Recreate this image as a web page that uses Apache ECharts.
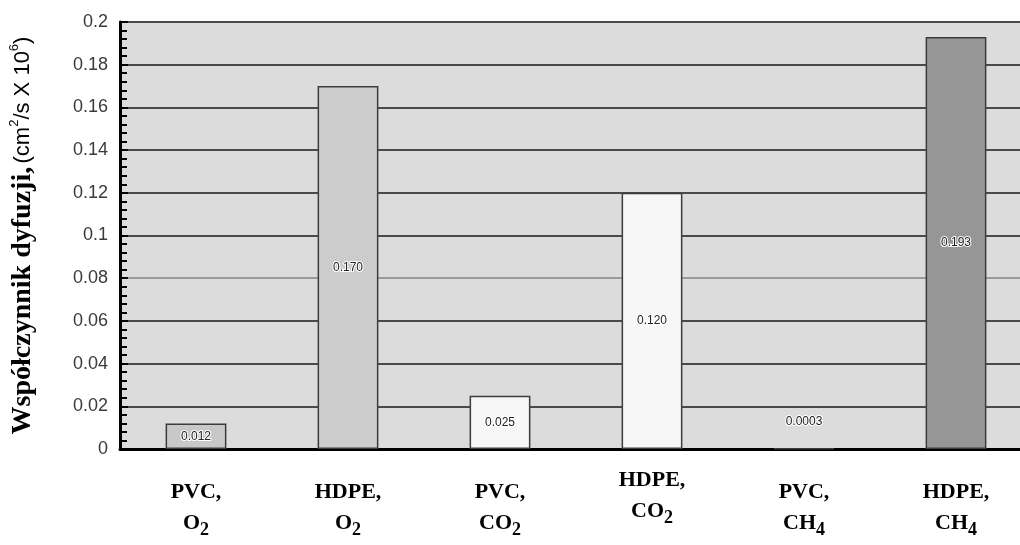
<!DOCTYPE html>
<html>
<head>
<meta charset="utf-8">
<script src="https://cdn.jsdelivr.net/npm/echarts@6/dist/echarts.min.js"></script>
<style>html,body{margin:0;padding:0;background:#fff;}#c{width:1020px;height:545px;}</style>
</head>
<body>
<div id="c"></div>
<script>
const categories = ['PVC, O2', 'HDPE, O2', 'PVC, CO2', 'HDPE, CO2', 'PVC, CH4', 'HDPE, CH4'];
const values = [0.012, 0.170, 0.025, 0.120, 0.0003, 0.193];
const valueLabels = ['0.012', '0.170', '0.025', '0.120', '0.0003', '0.193'];
const barColors = ['#c8c8c8', '#cccccc', '#f7f7f7', '#f7f7f7', '#e6e6e6', '#969696'];
const yTicks = [0, 0.02, 0.04, 0.06, 0.08, 0.1, 0.12, 0.14, 0.16, 0.18, 0.2];

const gridColors = yTicks.map((t, i) => i === 4 ? '#9a9a9a' : '#4a4a4a');

function catLabel(v) {
  const parts = v.split(', ');
  const gas = parts[1].replace(/(\d)/g, '}{s|$1}{g|');
  return '{m|' + parts[0] + ',}\n{g|' + gas + '}';
}

const chart = echarts.init(document.getElementById('c'), null, {renderer: 'canvas'});
chart.setOption({
  animation: false,
  backgroundColor: '#ffffff',
  grid: {
    left: 120, top: 22, height: 427, width: 912,
    outerBoundsMode: 'none',
    containLabel: false,
    show: true, backgroundColor: '#dcdcdc', borderColor: '#000', borderWidth: 2
  },
  xAxis: {
    type: 'category',
    data: categories.map((c, i) => ({
      value: c,
      textStyle: { padding: i === 3 ? [0, 0, 0, 0] : [12, 0, 0, 0] }
    })),
    axisLine: { show: true, onZero: false, lineStyle: { color: '#000', width: 3 } },
    axisTick: { show: false },
    axisLabel: {
      interval: 0,
      margin: 16,
      formatter: catLabel,
      rich: {
        m: { fontFamily: 'Liberation Serif', fontWeight: 'bold', fontSize: 22, color: '#000', lineHeight: 31 },
        g: { fontFamily: 'Liberation Serif', fontWeight: 'bold', fontSize: 22, color: '#000', lineHeight: 31 },
        s: { fontFamily: 'Liberation Serif', fontWeight: 'bold', fontSize: 18, color: '#000', lineHeight: 31, verticalAlign: 'bottom' }
      }
    },
    splitLine: { show: false }
  },
  yAxis: {
    type: 'value',
    min: 0, max: 0.2, interval: 0.02,
    name: '{b|Współczynnik dyfuzji,} {n|(cm}{sup|2}{n|/s X 10}{sup|6}{n|)}',
    nameLocation: 'middle',
    nameGap: 82,
    nameTextStyle: {
      rich: {
        b: { fontFamily: 'Liberation Serif', fontWeight: 'bold', fontSize: 28, color: '#000', lineHeight: 30 },
        n: { fontFamily: 'Liberation Sans', fontSize: 22, color: '#000', lineHeight: 30 },
        sup: { fontFamily: 'Liberation Sans', fontSize: 13, color: '#000', lineHeight: 30, verticalAlign: 'top' }
      }
    },
    axisLine: { show: true, lineStyle: { color: '#000', width: 3 } },
    axisTick: { show: true, inside: true, length: 8, lineStyle: { color: '#000', width: 2 } },
    minorTick: { show: true, splitNumber: 5, length: 7, lineStyle: { color: '#000', width: 2 } },
    axisLabel: {
      margin: 12,
      fontFamily: 'Liberation Sans',
      fontSize: 18,
      color: '#3a3a3a',
      formatter: v => String(parseFloat(v.toFixed(4)))
    },
    splitLine: { show: true, lineStyle: { color: gridColors, width: 2 } }
  },
  series: [{
    type: 'bar',
    barWidth: '40%',
    data: values.map((v, i) => ({
      value: v,
      itemStyle: { color: barColors[i] },
      label: i === 4 ? { position: 'top', distance: 20 } : {}
    })),
    itemStyle: { borderColor: '#3c3c3c', borderWidth: 1.5 },
    label: {
      show: true,
      position: 'inside',
      fontFamily: 'Liberation Sans',
      fontSize: 12,
      color: '#222',
      textBorderColor: '#ffffff',
      textBorderWidth: 2,
      formatter: p => valueLabels[p.dataIndex]
    }
  }]
});
</script>
</body>
</html>
